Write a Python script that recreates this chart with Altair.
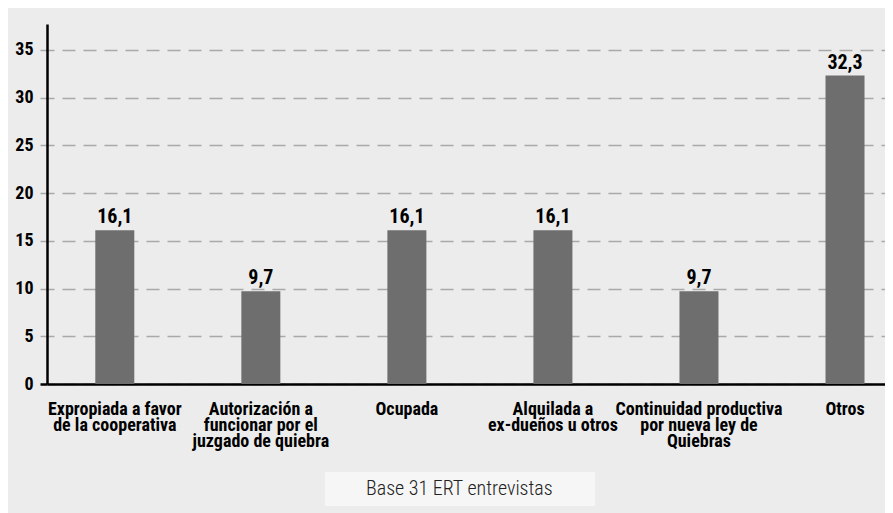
import altair as alt
import pandas as pd

categories = [
    "Expropiada a favor|de la cooperativa",
    "Autorización a|funcionar por el|juzgado de quiebra",
    "Ocupada",
    "Alquilada a|ex-dueños u otros",
    "Continuidad productiva|por nueva ley de|Quiebras",
    "Otros",
]
values = [16.1, 9.7, 16.1, 16.1, 9.7, 32.3]
y_ticks = [0, 5, 10, 15, 20, 25, 30, 35]
caption = "Base 31 ERT entrevistas"

FONT = "Roboto Condensed"

df = pd.DataFrame({"cat": categories, "v": values})
df["lbl"] = [f"{v:.1f}".replace(".", ",") for v in values]
df["caption"] = caption

x = alt.X("cat:N", sort=None, title=None,
          scale=alt.Scale(paddingInner=0.5, paddingOuter=0.119, align=0.9),
          axis=alt.Axis(labelExpr="split(datum.label, '|')", labelAngle=0,
                        labelFont=FONT, labelFontSize=18, labelFontWeight="bold",
                        labelColor="black", labelLineHeight=16, labelPadding=16,
                        ticks=False, domainColor="black", domainWidth=2.5,
                        labelLimit=300))
y = alt.Y("v:Q", title=None,
          scale=alt.Scale(domain=[0, 37.7], nice=False),
          axis=alt.Axis(values=y_ticks, labelFont=FONT, labelFontSize=18,
                        labelFontWeight="bold", labelColor="black", labelPadding=7,
                        domainColor="black", domainWidth=2.5, tickSize=7,
                        tickColor={"expr": "datum.value == 0 ? 'black' : '#a9a9a9'"},
                        tickWidth={"expr": "datum.value == 0 ? 2.5 : 1.5"},
                        grid=True, gridColor="#a9a9a9", gridWidth=1.5,
                        gridDash=[13, 8], gridDashOffset=6))

base = alt.Chart(df)
bars = base.mark_bar(size=39, color="#6e6e6e").encode(x=x, y=y)
texts = base.mark_text(dy=-7, baseline="alphabetic", font=FONT, fontSize=20,
                       fontWeight="bold", color="black").encode(x=x, y=y, text="lbl:N")
cap = base.mark_point(opacity=0).encode(
    x=x, y=y,
    color=alt.Color("caption:N", scale=alt.Scale(range=["#222222"]),
                    legend=alt.Legend(orient="none", legendX=278, legendY=448,
                                      direction="horizontal", columns=2, columnPadding=-15,
                                      values=[caption, ""],
                                      title=None, fillColor="#f6f6f6", padding=7,
                                      labelOffset=14, symbolSize=0, symbolStrokeWidth=0,
                                      symbolOpacity=0,
                                      labelFont=FONT, labelFontSize=20, labelFontWeight=300,
                                      labelColor="#222222", labelLimit=400)))

chart = alt.layer(bars, texts, cap).properties(
    width=838, height=360,
    autosize=alt.AutoSizeParams(type="none"),
    padding={"left": 39, "top": 16, "right": 0, "bottom": 129},
    background="#ececec",
).configure_view(stroke=None)

chart.save("out.html", embed_options={"renderer": "svg", "actions": False})
